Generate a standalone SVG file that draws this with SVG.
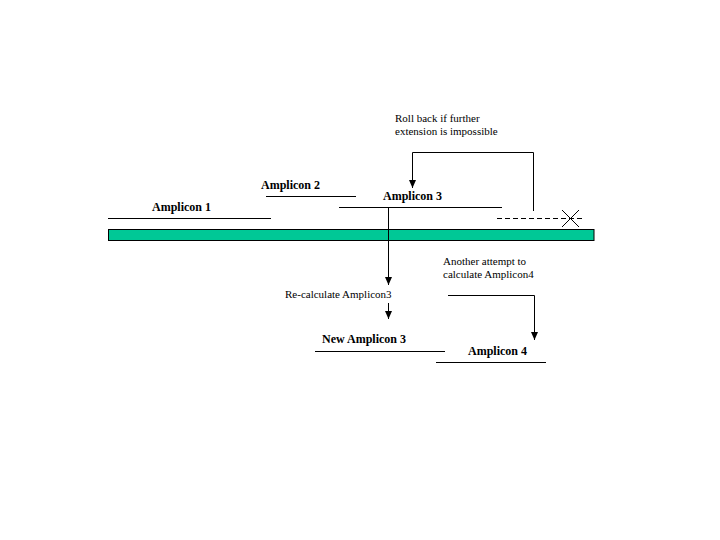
<svg xmlns="http://www.w3.org/2000/svg" width="720" height="540" viewBox="0 0 720 540">
<defs>
<style>
.lbl{font-family:"Liberation Serif","Times New Roman",serif;font-size:12px;font-weight:bold;fill:#000}
.note{font-family:"Liberation Serif","Times New Roman",serif;font-size:11px;fill:#000}
.ln{stroke:#000;stroke-width:1;fill:none}
.dash{stroke:#000;stroke-width:1;fill:none;stroke-dasharray:5,3}
</style>
<marker id="ah" markerWidth="8" markerHeight="7" refX="8" refY="3.5" orient="auto" markerUnits="userSpaceOnUse" viewBox="0 0 8 7">
<path d="M0,0 L8,3.5 L0,7 Z" fill="#000"/>
</marker>
</defs>
<rect width="720" height="540" fill="#fff"/>
<g id="template">
<rect x="108.5" y="229.5" width="485.5" height="11" fill="#00C896" stroke="#000" stroke-width="1"/>
</g>
<g id="amplicon1">
<line class="ln" x1="108" y1="218.5" x2="271" y2="218.5"/>
<text class="lbl" x="152" y="211">Amplicon 1</text>
</g>
<g id="amplicon2">
<line class="ln" x1="266" y1="196.5" x2="356" y2="196.5"/>
<text class="lbl" x="261" y="189">Amplicon 2</text>
</g>
<g id="amplicon3">
<line class="ln" x1="339" y1="207.5" x2="502" y2="207.5"/>
<text class="lbl" x="383" y="200">Amplicon 3</text>
</g>
<g id="failed-extension">
<line class="dash" x1="497" y1="218.5" x2="583" y2="218.5"/>
<line class="ln" x1="562" y1="210" x2="579" y2="227"/>
<line class="ln" x1="579" y1="210" x2="562" y2="227"/>
</g>
<g id="rollback-note">
<text class="note" x="395" y="122">Roll back if further</text>
<text class="note" x="395" y="135">extension is impossible</text>
</g>
<g id="recalc-note">
<text class="note" x="285" y="298">Re-calculate Amplicon3</text>
</g>
<g id="new-amplicon3">
<line class="ln" x1="315" y1="351.5" x2="445" y2="351.5"/>
<text class="lbl" x="322" y="343">New Amplicon 3</text>
</g>
<g id="attempt-note">
<text class="note" x="443" y="265">Another attempt to</text>
<text class="note" x="443" y="278">calculate Amplicon4</text>
</g>
<g id="amplicon4">
<line class="ln" x1="436" y1="362.5" x2="546" y2="362.5"/>
<text class="lbl" x="468" y="355">Amplicon 4</text>
</g>
<g id="connectors">
<polyline class="ln" points="533.5,211 533.5,152.5 412.5,152.5 412.5,188" marker-end="url(#ah)"/>
<polyline class="ln" points="388.5,207 388.5,285" marker-end="url(#ah)"/>
<polyline class="ln" points="388.5,303 388.5,319" marker-end="url(#ah)"/>
<polyline class="ln" points="448,295.5 534.5,295.5 534.5,340" marker-end="url(#ah)"/>
</g>
</svg>
